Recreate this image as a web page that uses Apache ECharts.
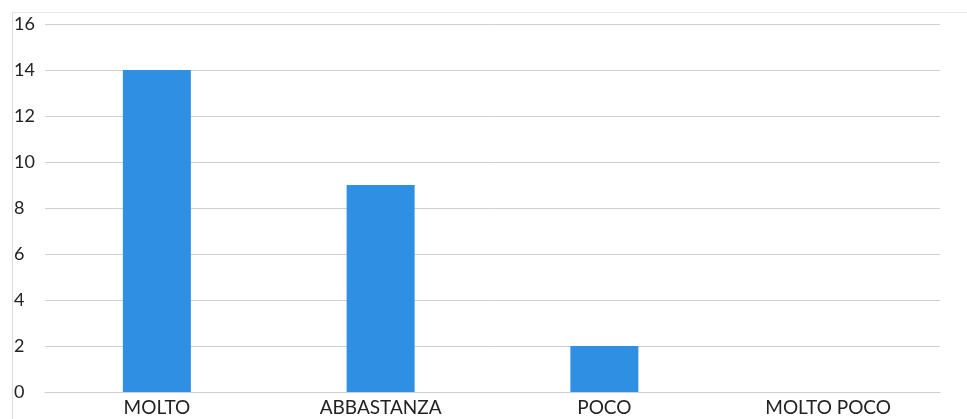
<!DOCTYPE html>
<html><head><meta charset="utf-8">
<script src="https://cdn.jsdelivr.net/npm/echarts@6/dist/echarts.min.js"></script>
<style>html,body{margin:0;padding:0;background:#fff}#c{width:967px;height:419px}</style>
</head><body><div id="c"></div>
<script>
const categories = ['MOLTO', 'ABBASTANZA', 'POCO', 'MOLTO POCO'];
const values = [14, 9, 2, 0];
const yTicks = [0, 2, 4, 6, 8, 10, 12, 14, 16];

const chart = echarts.init(document.getElementById('c'));
chart.setOption({
  animation: false,
  backgroundColor: '#fff',
  graphic: [
    {type: 'line', shape: {x1: 12.5, y1: 12, x2: 12.5, y2: 419}, style: {stroke: '#dcdcdc', lineWidth: 1}},
    {type: 'line', shape: {x1: 12, y1: 12.5, x2: 967, y2: 12.5}, style: {stroke: '#e6e6e6', lineWidth: 1}}
  ],
  grid: {left: 45, right: 27, top: 24, bottom: 27, containLabel: false},
  xAxis: {
    type: 'category',
    data: categories,
    axisLine: {show: true, lineStyle: {color: '#d0d0d0'}},
    axisTick: {show: false},
    axisLabel: {color: '#222', fontFamily: 'Lato, "Open Sans", sans-serif', fontSize: 19, margin: 6}
  },
  yAxis: {
    type: 'value',
    min: yTicks[0], max: yTicks[yTicks.length - 1], interval: 2,
    axisLine: {show: false},
    axisTick: {show: false},
    splitLine: {lineStyle: {color: '#d0d0d0'}},
    axisLabel: {color: '#222', fontFamily: 'Lato, "Open Sans", sans-serif', fontSize: 18, align: 'left', margin: 31}
  },
  series: [{
    type: 'bar',
    data: values,
    barWidth: 68,
    itemStyle: {color: '#2E8FE3'}
  }]
});
</script></body></html>
